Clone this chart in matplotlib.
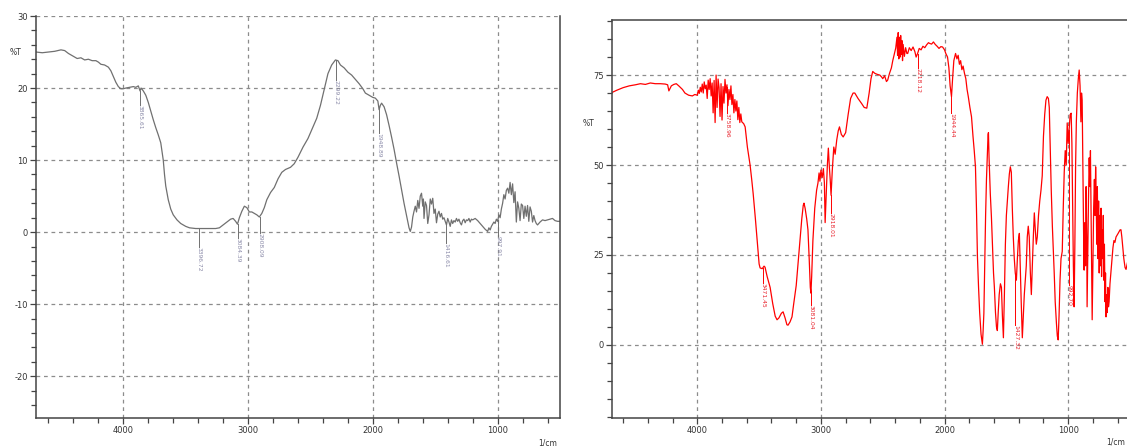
import numpy as np
import matplotlib
matplotlib.use("Agg")
import matplotlib.pyplot as plt
from matplotlib.ticker import MultipleLocator

plt.rcParams['axes.unicode_minus'] = False
plt.rcParams['font.family'] = ['DejaVu Sans']

# left spectrum (gray), wavenumber [1/cm] -> %T
left_spectrum = [
    (4700, 25.0), (4650, 24.9), (4600, 25.0), (4550, 25.1), (4500, 25.3), (4470, 25.2),
    (4440, 24.8), (4400, 24.4), (4370, 24.1), (4340, 24.2), (4310, 23.9), (4280, 24.0),
    (4250, 23.8), (4220, 23.8), (4200, 23.6), (4180, 23.3), (4150, 23.2), (4120, 22.9),
    (4100, 22.4), (4080, 21.6), (4060, 20.8), (4040, 20.2), (4020, 19.9), (4000, 19.9),
    (3980, 20.0), (3950, 20.1), (3920, 20.2), (3900, 20.1), (3880, 20.3), (3866, 19.6),
    (3858, 20.0), (3840, 19.6), (3820, 19.0), (3800, 18.0), (3780, 16.8), (3760, 15.6),
    (3740, 14.5), (3720, 13.5), (3700, 12.4), (3680, 10.0), (3670, 8.0), (3660, 6.4),
    (3640, 4.5), (3620, 3.2), (3600, 2.4), (3570, 1.7), (3540, 1.2), (3500, 0.8),
    (3470, 0.6), (3420, 0.5), (3380, 0.5), (3340, 0.5), (3300, 0.5), (3260, 0.5),
    (3230, 0.6), (3200, 1.0), (3170, 1.4), (3140, 1.8), (3120, 1.9), (3100, 1.5),
    (3085, 1.1), (3070, 2.0), (3050, 2.9), (3030, 3.6), (3010, 3.4), (2990, 2.8),
    (2970, 2.8), (2950, 2.6), (2930, 2.4), (2910, 2.1), (2890, 2.6), (2870, 3.4),
    (2850, 4.5), (2820, 5.5), (2790, 6.2), (2760, 7.4), (2730, 8.3), (2700, 8.7),
    (2660, 9.0), (2630, 9.5), (2600, 10.4), (2560, 11.8), (2520, 13.0), (2480, 14.6),
    (2450, 15.8), (2420, 17.6), (2390, 19.8), (2360, 22.0), (2330, 23.2), (2300, 23.9),
    (2280, 23.8), (2260, 23.2), (2230, 22.8), (2200, 22.2), (2170, 21.8), (2140, 21.2),
    (2110, 20.6), (2080, 19.9), (2060, 19.3), (2030, 19.0), (2000, 18.7), (1980, 18.6),
    (1960, 18.2), (1950, 17.0), (1940, 17.6), (1930, 17.9), (1910, 17.4), (1890, 16.3),
    (1870, 14.8), (1850, 13.2), (1830, 11.5), (1810, 9.6), (1790, 7.8), (1770, 5.9),
    (1750, 4.0), (1730, 2.3), (1710, 0.6), (1700, 0.1), (1690, 0.7), (1680, 2.1),
    (1670, 2.9), (1660, 3.6), (1650, 2.8), (1640, 4.4), (1630, 3.3), (1620, 5.0),
    (1610, 5.4), (1600, 3.6), (1595, 4.6), (1590, 1.9), (1580, 4.2), (1570, 3.7),
    (1560, 1.2), (1550, 2.4), (1540, 4.6), (1530, 3.9), (1520, 4.7), (1510, 2.6),
    (1500, 3.2), (1490, 1.3), (1480, 2.5), (1470, 2.9), (1460, 2.1), (1450, 2.6),
    (1440, 1.8), (1430, 2.0), (1420, 1.5), (1410, 1.0), (1400, 1.9), (1390, 1.4),
    (1380, 0.8), (1370, 1.7), (1360, 1.2), (1350, 1.6), (1340, 1.4), (1330, 1.9),
    (1320, 1.5), (1310, 1.8), (1300, 1.3), (1290, 1.0), (1280, 1.6), (1270, 1.8),
    (1260, 1.3), (1250, 1.7), (1240, 1.6), (1230, 1.9), (1220, 1.4), (1210, 1.8),
    (1200, 1.7), (1180, 1.9), (1160, 1.6), (1140, 1.2), (1120, 0.8), (1100, 0.4),
    (1080, 0.1), (1070, 0.6), (1060, 0.3), (1050, 0.8), (1040, 1.1), (1030, 1.4),
    (1020, 1.2), (1010, 1.8), (1000, 1.5), (990, 2.4), (980, 2.0), (970, 3.2),
    (960, 4.0), (950, 5.2), (940, 4.6), (930, 5.8), (920, 6.1), (910, 5.4),
    (900, 6.9), (890, 5.2), (880, 6.7), (870, 4.1), (860, 5.6), (850, 1.4),
    (840, 4.2), (830, 3.3), (820, 1.6), (810, 3.9), (800, 3.7), (790, 1.9),
    (780, 3.6), (770, 2.2), (760, 3.7), (750, 1.5), (740, 3.5), (730, 2.9),
    (720, 1.4), (710, 2.3), (700, 1.6), (690, 1.2), (680, 1.0), (660, 1.4),
    (640, 1.7), (620, 1.6), (600, 1.7), (580, 1.8), (560, 1.9), (540, 1.6),
    (520, 1.5), (500, 1.5),
]

# right spectrum (red)
right_spectrum = [
    (4700, 70.0), (4650, 70.8), (4600, 71.5), (4550, 72.0), (4500, 72.3), (4460, 72.6),
    (4420, 72.4), (4380, 72.8), (4340, 72.6), (4300, 72.6), (4260, 72.5), (4240, 72.3),
    (4230, 70.6), (4210, 72.0), (4190, 72.4), (4170, 72.6), (4150, 72.0), (4120, 71.0),
    (4100, 70.0), (4070, 69.4), (4040, 69.2), (4020, 69.6), (4000, 69.4), (3992, 70.8),
    (3984, 69.9), (3976, 71.6), (3968, 70.3), (3960, 72.5), (3952, 70.0), (3944, 73.1),
    (3936, 71.2), (3928, 72.2), (3920, 68.5), (3912, 73.6), (3904, 71.0), (3896, 74.0),
    (3888, 69.2), (3880, 72.8), (3872, 64.5), (3864, 73.5), (3856, 61.8), (3848, 75.0),
    (3840, 66.0), (3832, 73.9), (3824, 71.5), (3816, 63.5), (3808, 72.6), (3800, 62.5),
    (3792, 71.8), (3784, 67.2), (3776, 73.8), (3768, 70.0), (3760, 72.3), (3752, 66.5),
    (3744, 71.0), (3736, 68.2), (3728, 72.0), (3720, 66.8), (3712, 69.6), (3704, 64.5),
    (3696, 68.2), (3688, 65.0), (3680, 67.8), (3672, 62.6), (3664, 66.0), (3656, 61.8),
    (3648, 64.2), (3640, 62.0), (3625, 61.5), (3613, 60.6), (3595, 55.0), (3573, 50.0),
    (3560, 46.0), (3548, 42.0), (3530, 35.0), (3516, 29.0), (3500, 22.5), (3492, 21.4),
    (3475, 21.2), (3460, 21.9), (3452, 21.6), (3435, 19.0), (3411, 16.0), (3390, 11.5),
    (3370, 8.0), (3355, 7.0), (3340, 7.5), (3320, 8.8), (3306, 9.2), (3290, 7.5),
    (3275, 5.6), (3266, 5.5), (3250, 6.4), (3234, 7.8), (3220, 11.5), (3200, 16.5),
    (3185, 22.7), (3170, 29.0), (3155, 35.0), (3143, 38.8), (3137, 39.4), (3128, 38.0),
    (3115, 35.0), (3105, 32.0), (3095, 24.0), (3086, 16.0), (3081, 14.4), (3075, 19.0),
    (3065, 29.0), (3050, 38.0), (3035, 43.0), (3024, 45.0), (3015, 47.8), (3008, 45.5),
    (3000, 48.6), (2990, 46.5), (2980, 49.0), (2972, 45.0), (2966, 34.0), (2958, 41.0),
    (2948, 50.0), (2940, 54.7), (2932, 49.5), (2925, 46.0), (2918, 41.6), (2908, 48.6),
    (2896, 55.0), (2885, 53.0), (2872, 57.0), (2860, 59.5), (2850, 60.6), (2835, 58.5),
    (2820, 57.8), (2800, 59.0), (2780, 64.0), (2760, 68.5), (2740, 70.0), (2726, 70.0),
    (2700, 68.5), (2669, 67.0), (2650, 66.0), (2629, 65.8), (2610, 70.0), (2595, 74.0),
    (2581, 76.0), (2565, 75.5), (2545, 75.2), (2524, 75.0), (2510, 74.5), (2500, 74.0),
    (2485, 74.8), (2470, 73.2), (2460, 73.6), (2445, 75.5), (2430, 77.0), (2419, 79.0),
    (2405, 81.0), (2395, 82.5), (2385, 85.5), (2380, 80.5), (2375, 86.8), (2370, 79.5),
    (2365, 85.5), (2360, 80.0), (2355, 86.0), (2350, 80.8), (2345, 84.6), (2340, 79.0),
    (2335, 83.5), (2325, 80.2), (2315, 82.6), (2305, 81.0), (2298, 81.0), (2285, 82.6),
    (2270, 81.8), (2255, 82.8), (2240, 81.5), (2230, 80.0), (2218, 81.0), (2205, 82.4),
    (2190, 82.0), (2175, 83.0), (2160, 82.6), (2145, 83.4), (2130, 84.0), (2121, 83.8),
    (2105, 83.6), (2090, 84.2), (2075, 83.5), (2060, 83.0), (2045, 82.4), (2030, 82.9),
    (2016, 82.8), (2000, 82.0), (1990, 81.0), (1976, 80.0), (1965, 77.0), (1955, 72.0),
    (1944, 69.0), (1935, 74.0), (1925, 79.0), (1911, 81.0), (1900, 79.5), (1890, 80.5),
    (1880, 78.0), (1870, 79.0), (1860, 76.5), (1850, 77.5), (1839, 75.5), (1828, 74.0),
    (1818, 71.0), (1808, 69.0), (1795, 66.0), (1782, 63.4), (1770, 58.0), (1760, 54.0),
    (1750, 49.5), (1742, 38.0), (1734, 24.5), (1725, 16.0), (1716, 9.0), (1705, 3.0),
    (1694, 0.2), (1688, 4.0), (1682, 8.8), (1676, 20.0), (1668, 36.0), (1661, 46.0),
    (1655, 52.0), (1648, 58.5), (1645, 59.0), (1640, 52.0), (1630, 42.0), (1621, 35.6),
    (1612, 27.0), (1604, 20.0), (1597, 16.0), (1588, 9.0), (1580, 5.0), (1573, 4.0),
    (1566, 9.0), (1558, 14.0), (1548, 17.0), (1540, 16.0), (1532, 8.0), (1524, 2.0),
    (1516, 14.0), (1508, 28.0), (1500, 36.0), (1492, 40.0), (1484, 44.0), (1476, 47.5),
    (1468, 49.5), (1460, 48.0), (1452, 38.0), (1444, 30.0), (1436, 24.0), (1428, 20.0),
    (1419, 18.0), (1411, 24.0), (1403, 29.0), (1395, 31.0), (1388, 22.0), (1380, 12.0),
    (1371, 2.0), (1363, 8.0), (1355, 14.0), (1347, 18.0), (1339, 22.0), (1331, 30.0),
    (1323, 33.0), (1315, 30.0), (1306, 20.0), (1298, 14.0), (1290, 22.0), (1282, 30.0),
    (1274, 36.7), (1266, 32.0), (1258, 28.0), (1250, 30.0), (1240, 36.0), (1230, 40.0),
    (1220, 43.0), (1210, 47.0), (1200, 58.0), (1190, 64.0), (1180, 68.0), (1170, 69.0),
    (1160, 68.5), (1153, 66.0), (1145, 55.0), (1137, 43.0), (1128, 33.0), (1120, 26.0),
    (1113, 20.0), (1105, 12.0), (1095, 6.0), (1088, 2.5), (1081, 1.4), (1074, 8.0),
    (1066, 18.0), (1058, 24.0), (1048, 26.0), (1040, 38.0), (1032, 48.0), (1024, 54.0),
    (1016, 50.0), (1008, 61.7), (1000, 56.0), (992, 60.0), (984, 64.0), (976, 64.4),
    (970, 56.0), (964, 40.0), (958, 22.0), (952, 10.6), (946, 28.0), (940, 50.0),
    (934, 62.0), (926, 70.0), (918, 74.0), (911, 76.4), (904, 72.0), (897, 62.0),
    (892, 70.0), (887, 68.0), (880, 46.0), (875, 30.0), (871, 20.8), (866, 34.0),
    (860, 22.0), (855, 44.0), (850, 30.0), (847, 10.6), (842, 24.0), (836, 40.0),
    (830, 52.0), (824, 44.0), (820, 54.0), (815, 38.0), (810, 22.0), (806, 7.0),
    (800, 22.0), (794, 38.0), (788, 46.0), (783, 36.0), (778, 49.5), (774, 42.0),
    (769, 28.0), (764, 44.0), (759, 24.0), (754, 40.0), (749, 20.0), (744, 36.0),
    (738, 22.0), (734, 38.0), (730, 19.0), (726, 32.0), (721, 24.0), (716, 36.0),
    (712, 18.0), (707, 28.0), (702, 12.0), (698, 20.0), (694, 7.8), (689, 14.0),
    (684, 9.0), (679, 16.0), (674, 10.6), (669, 12.0), (662, 17.0), (655, 20.0),
    (648, 23.0), (645, 24.5), (638, 27.0), (630, 29.0), (622, 28.5), (613, 30.0),
    (604, 30.5), (596, 31.0), (588, 31.5), (580, 32.0), (573, 32.0), (566, 30.0),
    (558, 27.0), (550, 24.0), (540, 21.5), (532, 21.0), (520, 23.0), (510, 24.5),
    (500, 25.0),
]

left_peaks = [3865.61, 3396.72, 3084.39, 2908.09, 2299.22, 1948.89, 1416.61, 997.91]
right_peaks = [3758.96, 3471.45, 3081.04, 2918.01, 2218.12, 1944.44, 1427.32, 992.70]

left_wn, left_t = map(np.array, zip(*left_spectrum))
right_wn, right_t = map(np.array, zip(*right_spectrum))

W, H = 1127, 446
fig = plt.figure(figsize=(W / 100, H / 100), dpi=100)

def px_axes(x0, x1, y0, y1):
    return fig.add_axes([x0 / W, 1 - y1 / H, (x1 - x0) / W, (y1 - y0) / H])

axL = px_axes(36, 560, 16, 418)
axR = px_axes(612, 1130, 20, 418)

spine_c = '#444444'
tick_c = '#333333'

def style(ax, ymaj, ymin):
    ax.xaxis.set_major_locator(MultipleLocator(1000))
    ax.xaxis.set_minor_locator(MultipleLocator(200))
    ax.yaxis.set_major_locator(MultipleLocator(ymaj))
    ax.yaxis.set_minor_locator(MultipleLocator(ymin))
    ax.tick_params(which='both', direction='out', colors=spine_c, labelcolor=tick_c,
                   labelsize=6, width=0.9, pad=2)
    ax.tick_params(which='major', length=4)
    ax.tick_params(which='minor', length=3.5)
    ax.grid(True, which='major', color='#8c8c8c', linestyle=(0, (3, 3)), linewidth=0.9)
    for s in ax.spines.values():
        s.set_color(spine_c)
        s.set_linewidth(1.1)
    ax.set_axisbelow(True)

# left panel
axL.plot(left_wn, left_t, color='#707070', lw=0.9)
axL.set_xlim(4700, 500)
axL.set_ylim(-25.8, 30)
style(axL, 10, 2)
axL.spines['top'].set_visible(False)
axL.text(-0.04, 25, '%T', transform=axL.get_yaxis_transform(), fontsize=5.5,
         ha='center', va='center', color=tick_c)

left_text_top = [17.6, -2.1, -0.8, -0.1, 21.1, 13.7, -1.5, -0.6]
for wn, top in zip(left_peaks, left_text_top):
    yc = np.interp(-wn, -left_wn, left_t)
    axL.plot([wn, wn], [yc, top], color='#707070', lw=0.7)
    axL.text(wn, top, f"{wn:.2f}", rotation=270, fontsize=4.3, color='#8a8aa8',
             ha='center', va='top')

# right panel
axR.plot(right_wn, right_t, color='#ff0000', lw=0.9)
axR.set_xlim(4690, 500)
axR.set_ylim(-20.3, 90.3)
style(axR, 25, 5)
axR.text(-0.046, 61.4, '%T', transform=axR.get_yaxis_transform(), fontsize=5.5,
         ha='center', va='center', color=tick_c)

right_text_top = [64.4, 17.2, 11.1, 36.7, 77.0, 64.4, 5.5, 16.7]
for wn, top in zip(right_peaks, right_text_top):
    yc = np.interp(-wn, -right_wn, right_t)
    axR.plot([wn, wn], [yc, top], color='#ff0000', lw=0.7)
    axR.text(wn, top, f"{wn:.2f}", rotation=270, fontsize=4.3, color='#e8202a',
             ha='center', va='top')

fig.text(548 / W, 1 - 443 / H, '1/cm', fontsize=5.5, color=tick_c, ha='center', va='center')
fig.text(1125 / W, 1 - 442 / H, '1/cm', fontsize=5.5, color=tick_c, ha='right', va='center')

fig.savefig('out.png', dpi=100)
